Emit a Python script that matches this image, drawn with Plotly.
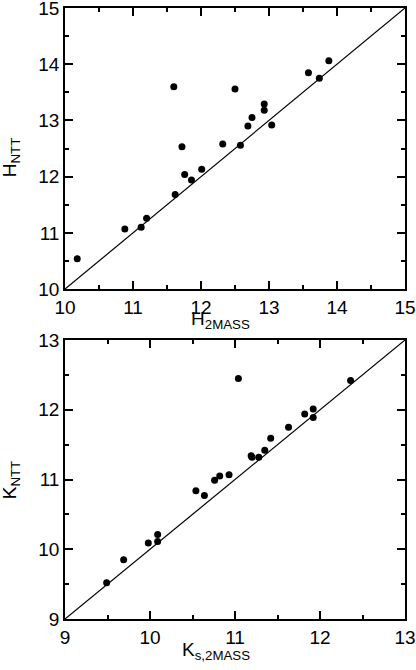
import plotly.graph_objects as go

# H band: 2MASS vs NTT
h_2mass = [10.18, 10.88, 11.12, 11.20, 11.62, 11.60, 11.72, 11.76, 11.86, 12.01, 12.32,
           12.50, 12.58, 12.69, 12.75, 12.93, 12.93, 13.04, 13.58, 13.74, 13.88]
h_ntt = [10.54, 11.07, 11.10, 11.26, 11.68, 13.60, 12.53, 12.04, 11.94, 12.13, 12.58,
         13.56, 12.56, 12.90, 13.05, 13.29, 13.18, 12.92, 13.85, 13.75, 14.06]

# Ks band: 2MASS vs NTT
k_2mass = [9.49, 9.69, 9.98, 10.09, 10.09, 10.54, 10.64, 10.76, 10.82, 10.93, 11.04,
           11.19, 11.20, 11.28, 11.35, 11.42, 11.63, 11.82, 11.92, 11.92, 12.36]
k_ntt = [9.52, 9.85, 10.09, 10.21, 10.11, 10.84, 10.77, 10.99, 11.05, 11.07, 12.45,
         11.34, 11.32, 11.32, 11.42, 11.59, 11.75, 11.94, 12.01, 11.89, 12.42]

h_range = [10, 15]
k_range = [9, 13]

FONT = "Liberation Sans, Arial, Helvetica, sans-serif"

fig = go.Figure()

# one-to-one lines
fig.add_trace(go.Scatter(x=h_range, y=h_range, mode="lines", line=dict(color="black", width=1.2),
                         xaxis="x", yaxis="y", showlegend=False, hoverinfo="skip"))
fig.add_trace(go.Scatter(x=k_range, y=k_range, mode="lines", line=dict(color="black", width=1.2),
                         xaxis="x2", yaxis="y2", showlegend=False, hoverinfo="skip"))

fig.add_trace(go.Scatter(x=h_2mass, y=h_ntt, mode="markers",
                         marker=dict(color="black", size=7), xaxis="x", yaxis="y", showlegend=False))
fig.add_trace(go.Scatter(x=k_2mass, y=k_ntt, mode="markers",
                         marker=dict(color="black", size=7), xaxis="x2", yaxis="y2", showlegend=False))

# invisible traces so the overlay axes (ticks on the other sides) get drawn
fig.add_trace(go.Scatter(x=h_range, y=h_range, mode="markers", marker=dict(opacity=0),
                         xaxis="x3", yaxis="y3", showlegend=False, hoverinfo="skip"))
fig.add_trace(go.Scatter(x=k_range, y=k_range, mode="markers", marker=dict(opacity=0),
                         xaxis="x2", yaxis="y4", showlegend=False, hoverinfo="skip"))

def ax(rng, domain, anchor, **kw):
    d = dict(range=rng, domain=domain, anchor=anchor, tick0=rng[0], dtick=1,
             showgrid=False, zeroline=False, automargin=False,
             showline=True, linecolor="black", linewidth=1.5, mirror="ticks",
             ticks="inside", ticklen=8, tickwidth=1.5, tickcolor="#000000",
             minor=dict(tick0=rng[0], dtick=0.5, ticks="inside", ticklen=4, tickwidth=1.5,
                        tickcolor="#000000"),
             ticklabeloverflow="allow",
             tickfont=dict(family=FONT, size=19, color="black"))
    d.update(kw)
    return d

top = [0.540, 1.0]
bottom = [0, 0.4566]

fig.update_layout(
    template="none",
    width=416, height=670,
    margin=dict(l=65, r=11, t=8, b=51),
    plot_bgcolor="white", paper_bgcolor="white",
    xaxis=ax(h_range, [0, 1], "y"),
    yaxis=ax(h_range, top, "x"),
    xaxis2=ax(k_range, [0, 1], "y2"),
    yaxis2=ax(k_range, bottom, "x2"),
    xaxis3=ax(h_range, [0, 1], "y3", overlaying="x", side="top", showticklabels=False),
    yaxis3=ax(h_range, top, "x3", overlaying="y", side="right", showticklabels=False),
    yaxis4=ax(k_range, bottom, "x2", overlaying="y2", side="right", showticklabels=False),
    font=dict(family=FONT, size=19, color="black"),
)

fig.add_annotation(text="H<sub>2MASS</sub>", xref="paper", yref="paper", x=0.457, y=0.512,
                   showarrow=False, xanchor="center", yanchor="top", font=dict(size=19))
fig.add_annotation(text="H<sub>NTT</sub>", xref="paper", yref="paper", x=-0.16, y=0.755,
                   textangle=-90, showarrow=False, xanchor="center", yanchor="middle", font=dict(size=19))
fig.add_annotation(text="K<sub>s,2MASS</sub>", xref="paper", yref="paper", x=0.444, y=-0.03,
                   showarrow=False, xanchor="center", yanchor="top", font=dict(size=19))
fig.add_annotation(text="K<sub>NTT</sub>", xref="paper", yref="paper", x=-0.16, y=0.228,
                   textangle=-90, showarrow=False, xanchor="center", yanchor="middle", font=dict(size=19))

fig.write_html("out.html", config={"displayModeBar": False},
               post_script="document.body.style.margin='0';")
